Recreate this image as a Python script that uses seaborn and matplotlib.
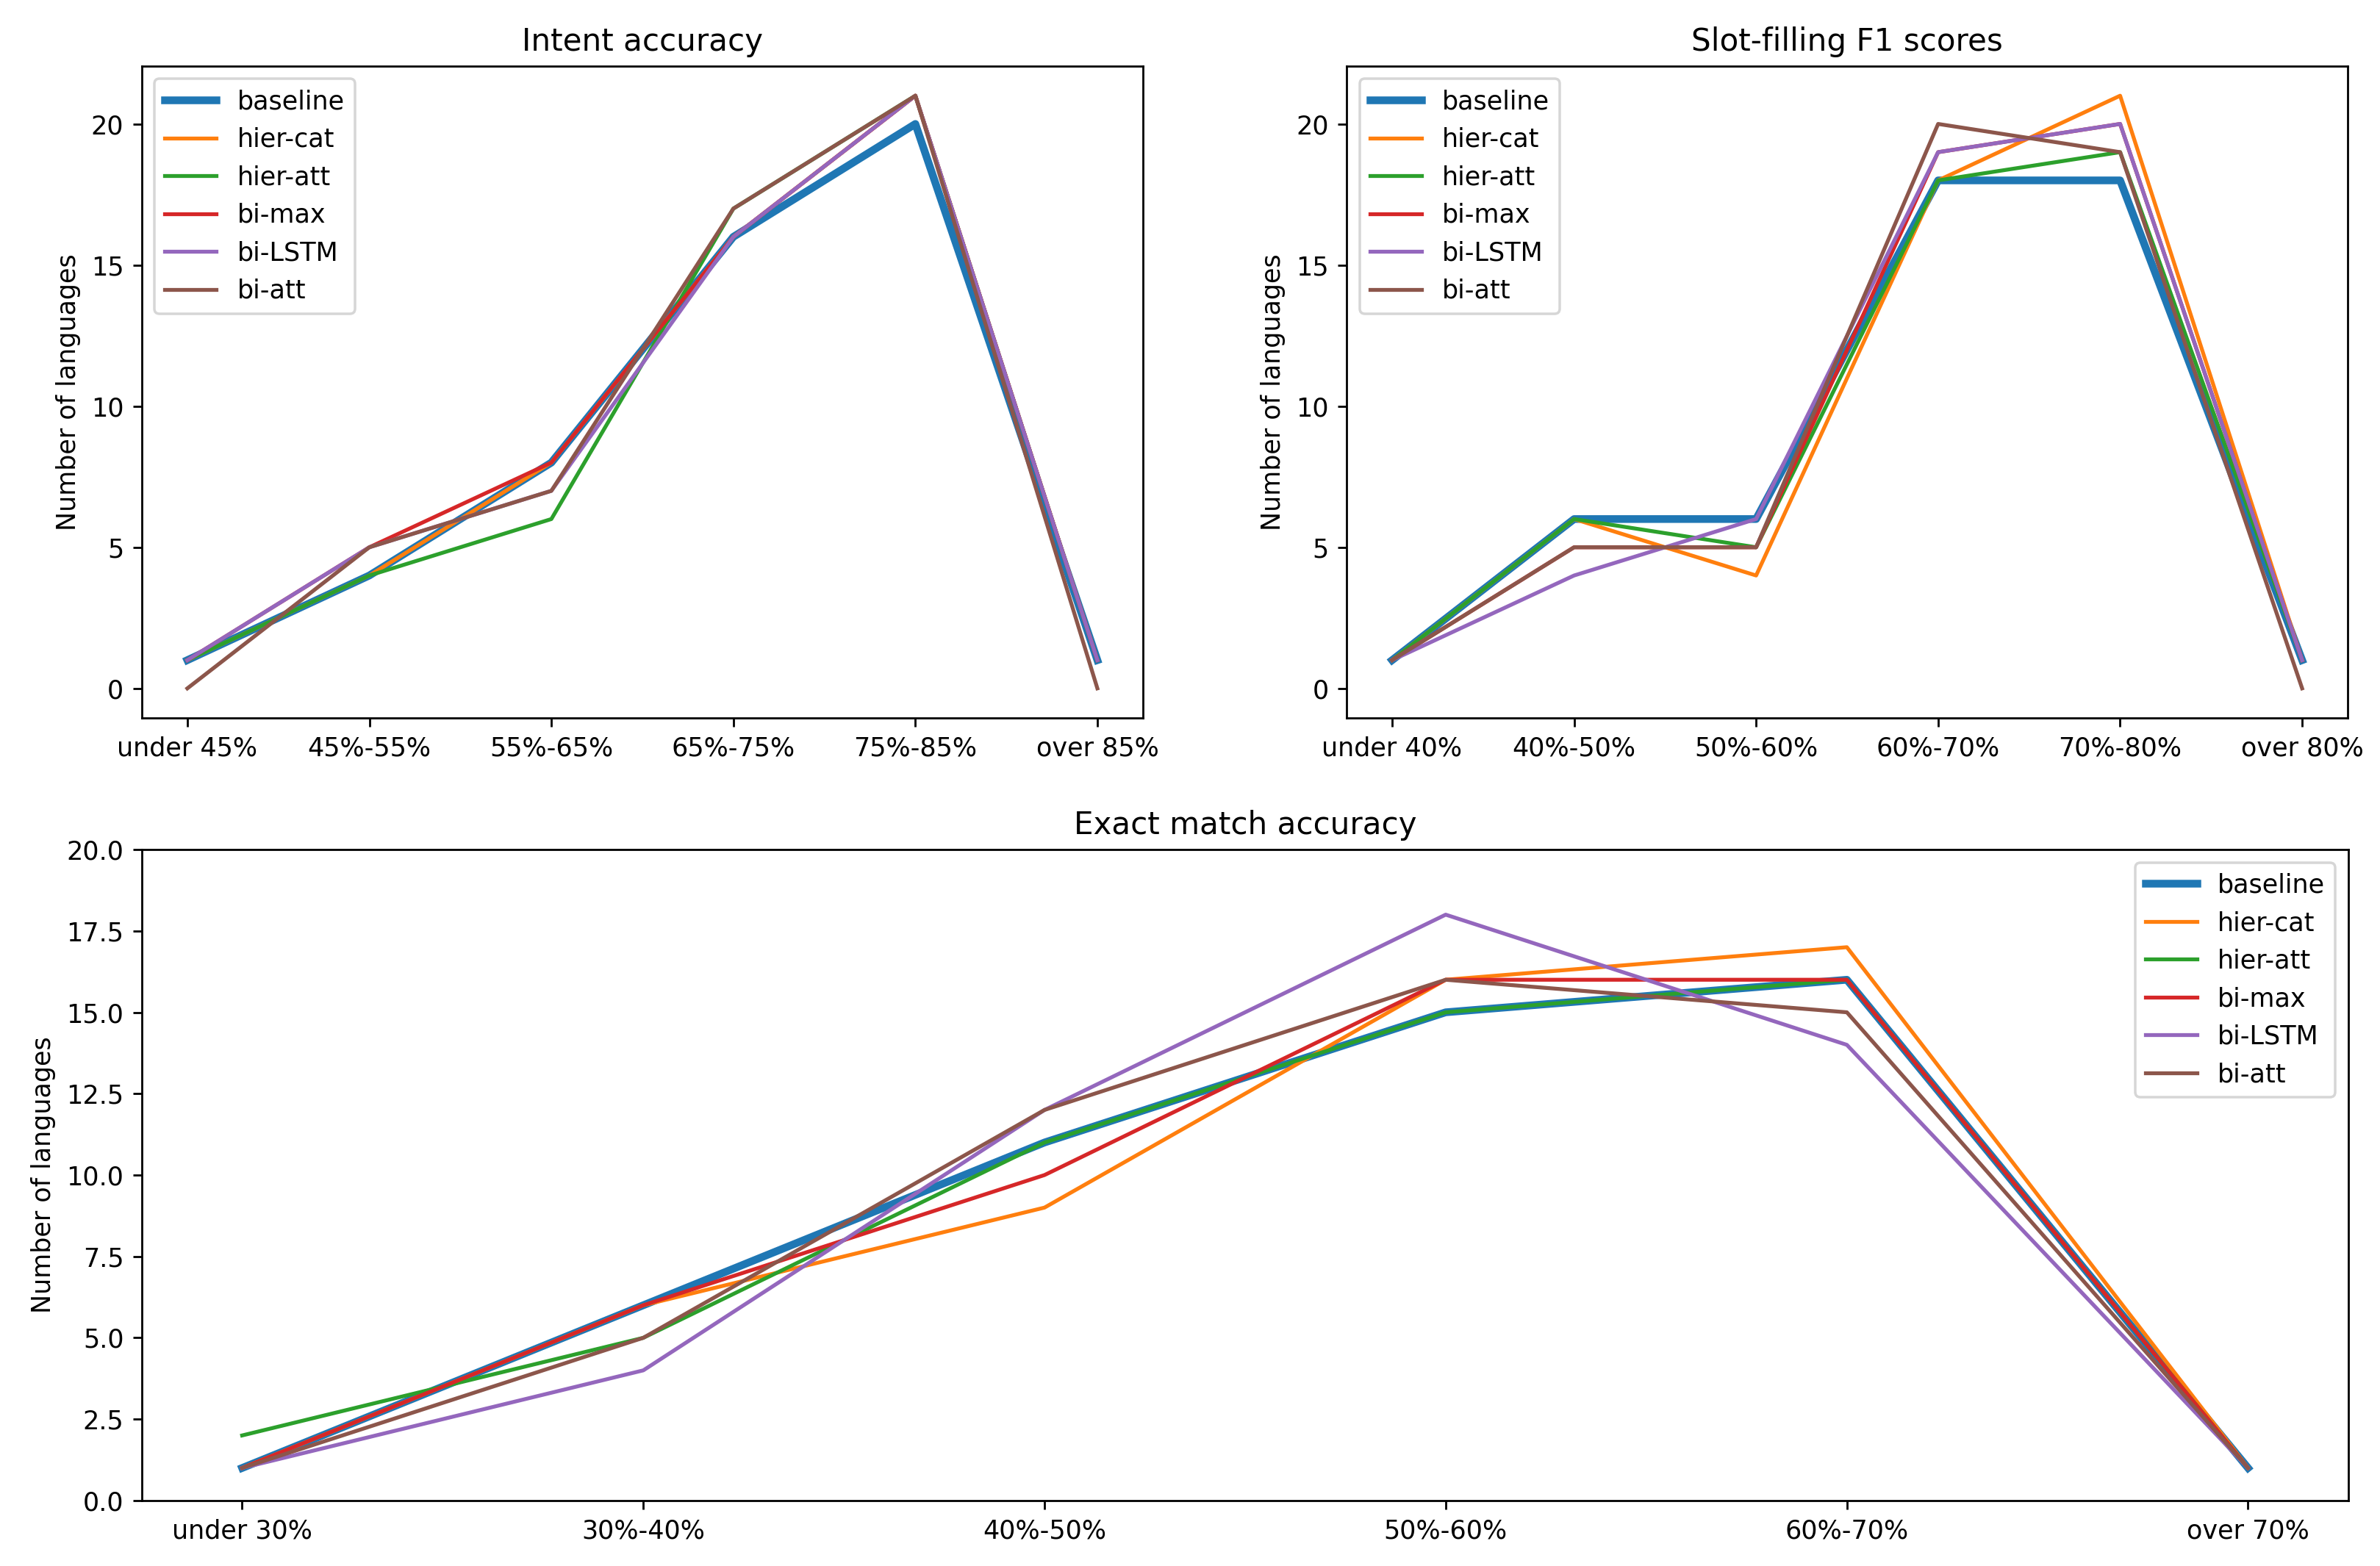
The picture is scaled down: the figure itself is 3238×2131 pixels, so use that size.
import numpy as np
import pandas as pd
import seaborn as sns
import matplotlib
matplotlib.use('Agg')
import matplotlib.pyplot as plt

# data
models = ['baseline', 'hier-cat', 'hier-att', 'bi-max', 'bi-LSTM', 'bi-att']

intent_bins = ['under 45%', '45%-55%', '55%-65%', '65%-75%', '75%-85%', 'over 85%']
intent_baseline = [1, 4, 8, 16, 20, 1]
intent_hier_cat = [1, 4, 8, 16, 21, 1]
intent_hier_att = [1, 4, 6, 17, 21, 1]
intent_bi_max = [1, 5, 8, 16, 21, 1]
intent_bi_lstm = [1, 5, 7, 16, 21, 1]
intent_bi_att = [0, 5, 7, 17, 21, 0]

slot_bins = ['under 40%', '40%-50%', '50%-60%', '60%-70%', '70%-80%', 'over 80%']
slot_baseline = [1, 6, 6, 18, 18, 1]
slot_hier_cat = [1, 6, 4, 18, 21, 1]
slot_hier_att = [1, 6, 5, 18, 19, 1]
slot_bi_max = [1, 5, 5, 19, 20, 1]
slot_bi_lstm = [1, 4, 6, 19, 20, 1]
slot_bi_att = [1, 5, 5, 20, 19, 0]

exact_bins = ['under 30%', '30%-40%', '40%-50%', '50%-60%', '60%-70%', 'over 70%']
exact_baseline = [1, 6, 11, 15, 16, 1]
exact_hier_cat = [1, 6, 9, 16, 17, 1]
exact_hier_att = [2, 5, 11, 15, 16, 1]
exact_bi_max = [1, 6, 10, 16, 16, 1]
exact_bi_lstm = [1, 4, 12, 18, 14, 1]
exact_bi_att = [1, 5, 12, 16, 15, 1]

panels = [
    ('Intent accuracy', intent_bins,
     [intent_baseline, intent_hier_cat, intent_hier_att, intent_bi_max, intent_bi_lstm, intent_bi_att]),
    ('Slot-filling F1 scores', slot_bins,
     [slot_baseline, slot_hier_cat, slot_hier_att, slot_bi_max, slot_bi_lstm, slot_bi_att]),
    ('Exact match accuracy', exact_bins,
     [exact_baseline, exact_hier_cat, exact_hier_att, exact_bi_max, exact_bi_lstm, exact_bi_att]),
]

colors = sns.color_palette('tab10', len(models))

fig = plt.figure(figsize=(3238 / 252, 2131 / 252), dpi=252)
ax1 = fig.add_axes([0.0596, 0.5415, 0.4206, 0.4163])
ax2 = fig.add_axes([0.5658, 0.5415, 0.4206, 0.4163])
ax3 = fig.add_axes([0.0596, 0.0418, 0.9271, 0.4157])
axes = [ax1, ax2, ax3]

for ax, (title, bins, series) in zip(axes, panels):
    df = pd.DataFrame({m: v for m, v in zip(models, series)}, index=bins)
    for i, m in enumerate(models):
        lw = 3 if m == 'baseline' else 1.5
        sns.lineplot(x=df.index, y=df[m].values, ax=ax, label=m,
                     color=colors[i], linewidth=lw, sort=False)
    ax.set_title(title)
    ax.set_ylabel('Number of languages')
    ax.set_xlabel('')

ax1.legend(loc='upper left')
ax2.legend(loc='upper left')
ax3.set_ylim(0, 20)
ax3.legend(loc='upper right')

fig.savefig('out.png', dpi=252)
